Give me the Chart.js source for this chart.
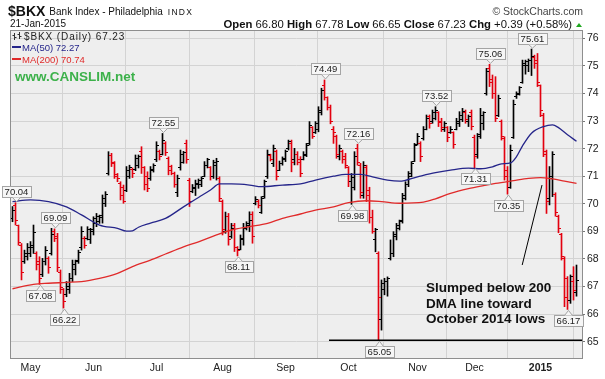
<!DOCTYPE html>
<html><head><meta charset="utf-8">
<script src="https://cdn.jsdelivr.net/npm/chart.js@4.4.1/dist/chart.umd.min.js"></script>
<style>html,body{margin:0;padding:0;background:#fff;overflow:hidden}canvas{display:block}</style>
</head><body>
<canvas id="c" width="605" height="379" style="width:605px;height:379px"></canvas>
<script>
// ---------- DATA ----------
const opens = [69.45,69.95,69.20,68.50,67.90,68.10,68.20,68.40,68.20,67.90,67.45,67.90,68.00,68.20,69.00,68.80,67.50,66.90,66.70,66.90,67.30,67.60,67.95,68.40,68.75,68.75,68.70,69.00,69.30,69.35,69.50,70.00,71.10,71.75,71.45,71.00,70.75,70.60,70.50,71.00,71.25,71.25,71.40,71.90,71.30,71.00,70.90,71.20,71.60,71.90,71.80,72.20,71.65,71.35,71.10,70.40,71.30,71.50,72.20,70.85,70.45,70.55,70.70,70.70,71.00,71.40,71.30,71.00,71.40,70.90,70.10,69.00,69.55,68.80,69.20,68.40,68.35,68.70,69.10,69.20,69.60,70.00,70.10,69.70,70.25,71.00,71.75,71.45,71.90,71.20,71.45,71.60,72.00,72.20,71.60,71.80,71.60,71.60,71.75,72.20,72.75,72.60,72.70,73.30,74.30,73.85,73.50,72.70,72.45,71.70,71.90,71.70,71.30,70.80,70.60,72.00,71.40,70.30,71.30,70.50,69.50,68.70,68.20,65.80,66.90,67.20,68.00,68.20,68.80,69.10,69.40,70.20,70.70,71.00,71.55,72.15,72.20,72.35,72.70,73.15,73.00,73.10,73.30,73.00,72.70,72.75,72.60,72.60,72.70,72.90,73.05,73.30,73.00,73.30,72.40,71.80,72.50,72.90,74.00,74.90,74.50,74.00,73.20,73.00,72.35,71.20,70.60,72.40,73.90,73.95,74.40,75.00,75.00,75.20,75.30,75.20,74.30,73.20,71.80,70.20,71.00,70.35,69.55,68.90,68.00,67.30,66.50,67.20,66.80];
const highs = [69.90,70.04,69.23,68.56,68.32,68.56,68.63,69.23,68.26,68.08,68.02,68.45,68.08,69.11,69.09,68.93,67.60,66.93,67.18,67.48,67.96,67.96,68.32,69.17,68.81,69.17,69.11,69.53,69.65,69.59,70.32,70.44,71.89,71.83,71.53,71.10,70.80,70.68,71.35,71.40,71.30,71.77,71.77,72.07,71.35,71.16,71.35,71.45,72.25,71.95,72.55,72.25,71.70,71.40,71.15,71.04,71.95,71.90,72.31,70.92,70.70,70.86,70.90,70.98,71.53,71.65,71.35,71.58,71.65,70.98,70.14,69.70,69.65,69.29,69.29,68.45,68.87,69.29,69.35,69.71,69.71,70.26,70.15,70.26,70.86,71.95,71.80,72.13,71.95,71.55,71.70,71.95,72.31,72.31,72.01,71.89,71.71,71.89,72.19,72.98,72.80,72.98,73.52,74.19,74.49,73.88,73.58,72.80,72.49,72.13,71.95,71.83,71.35,71.10,71.89,72.16,71.47,71.53,71.40,70.60,69.77,69.11,68.26,67.24,67.30,67.35,68.69,68.99,69.29,69.41,70.38,70.80,71.17,71.53,72.19,72.55,72.25,72.80,73.22,73.22,73.40,73.52,73.34,73.10,72.98,72.80,72.80,72.61,73.10,73.34,73.46,73.40,73.22,73.40,72.49,72.55,73.46,73.34,74.91,75.06,74.67,74.61,73.94,73.04,72.43,71.35,72.13,73.76,74.06,74.25,75.21,75.21,75.25,75.61,75.39,75.45,74.31,73.28,71.95,71.35,71.89,70.40,69.59,68.93,68.08,67.36,67.42,67.72,67.78];
const lows = [69.35,69.23,68.50,67.24,67.84,67.96,68.08,68.20,67.60,67.08,67.36,67.78,67.48,68.14,68.63,67.54,66.75,66.22,66.63,66.75,67.18,67.42,67.84,68.32,68.39,68.69,68.56,68.87,69.17,69.29,69.30,69.90,71.04,71.35,70.92,70.80,70.14,70.02,70.44,70.92,70.95,71.20,71.30,71.10,70.50,70.44,70.85,71.15,71.53,71.59,71.77,71.75,71.05,71.05,70.60,70.26,71.22,71.47,71.47,69.90,70.40,70.30,70.56,70.62,70.98,71.30,70.86,70.92,70.86,70.08,68.87,68.93,68.50,68.75,68.27,68.11,68.33,68.50,69.05,68.99,68.57,69.96,69.85,69.65,70.20,70.92,71.55,71.35,70.86,71.20,71.40,71.53,71.95,71.16,71.41,71.41,70.98,71.59,71.71,72.13,72.37,72.55,72.61,73.22,73.76,73.40,72.90,72.19,71.65,71.59,71.47,71.29,70.62,69.98,70.50,71.40,70.20,70.20,70.08,69.30,68.93,68.26,65.05,65.42,66.70,66.65,67.96,68.08,68.69,69.05,69.30,70.14,70.62,70.98,71.53,72.13,71.53,72.31,72.68,72.74,72.92,73.04,72.80,72.62,72.62,72.25,72.55,72.01,72.68,72.80,72.98,72.92,72.80,72.68,71.31,71.65,72.37,72.68,73.94,74.25,73.82,72.98,73.16,72.31,70.86,70.35,70.56,72.37,73.82,73.94,74.37,74.70,74.79,74.65,74.91,74.25,73.16,71.71,69.65,69.96,70.26,69.55,68.95,67.96,66.27,66.17,66.39,66.51,66.65];
const closes = [69.75,69.40,68.60,67.50,68.20,68.40,68.50,68.95,67.80,67.30,67.90,68.30,67.70,68.90,68.75,67.70,66.95,66.45,67.00,67.30,67.80,67.90,68.25,69.00,68.50,69.05,69.08,69.45,69.55,69.58,70.20,70.35,71.75,71.50,71.05,70.90,70.30,70.10,71.20,71.30,71.10,71.65,71.70,71.30,70.70,70.55,71.25,71.40,72.10,71.70,72.30,71.85,71.20,71.10,70.70,70.90,71.80,71.85,71.60,70.10,70.60,70.75,70.85,70.90,71.40,71.60,71.00,71.50,71.55,70.20,69.05,69.55,68.70,69.10,68.40,68.30,68.75,69.10,69.30,69.40,68.80,70.15,69.95,70.20,70.80,71.80,71.60,72.00,71.00,71.45,71.65,71.90,72.25,71.50,71.80,71.50,71.10,71.80,72.10,72.85,72.45,72.90,73.40,74.10,73.85,73.50,73.00,72.60,71.80,72.00,71.60,71.40,70.80,70.95,71.70,71.50,70.40,71.40,70.30,69.50,69.00,69.05,66.60,67.10,67.20,67.30,68.20,68.90,69.20,69.35,70.30,70.70,71.10,71.45,72.10,72.45,71.70,72.70,73.10,72.90,73.30,73.40,72.95,72.75,72.90,72.40,72.70,72.15,73.00,73.20,73.35,73.05,73.15,72.80,71.70,72.45,73.20,73.30,74.80,74.40,74.00,73.10,73.80,72.45,71.00,70.60,71.95,73.60,74.00,74.20,75.10,75.15,75.20,75.35,75.10,74.40,73.40,71.90,70.10,70.90,71.80,69.70,69.10,68.10,66.60,66.50,67.35,66.84,67.23];

// x axis: bar index of the first trading day of each month, and its label
const monthTickIndex = [6, 27, 48, 70, 91, 112, 135, 154, 176];
const monthTickLabels = ['May', 'Jun', 'Jul', 'Aug', 'Sep', 'Oct', 'Nov', 'Dec', '2015'];
const yTickValues = [65, 66, 67, 68, 69, 70, 71, 72, 73, 74, 75, 76];

// moving averages read at sample bars
const ma50Index  = [0, 6, 12, 18, 23, 29, 35, 38, 40, 42, 46, 51, 57, 62, 66, 69, 73, 79, 83, 90, 96, 101, 107, 111, 116, 120, 125, 129, 135, 141, 146, 152, 156, 160, 163, 166, 168, 170, 173, 177, 180, 182, 185, 188];
const ma50Values = [70.08, 70.14, 70.08, 69.89, 69.60, 69.23, 69.11, 69.01, 69.02, 69.15, 69.30, 69.47, 69.89, 70.23, 70.50, 70.72, 70.72, 70.68, 70.62, 70.68, 70.72, 70.86, 71.00, 71.07, 71.07, 70.98, 70.86, 70.82, 70.98, 71.13, 71.22, 71.29, 71.27, 71.34, 71.45, 71.48, 71.71, 72.10, 72.56, 72.80, 72.86, 72.76, 72.50, 72.27];
const ma200Index  = [0, 7, 12, 18, 23, 29, 35, 40, 46, 51, 57, 62, 68, 73, 79, 85, 90, 96, 101, 107, 112, 118, 123, 129, 137, 141, 146, 152, 157, 161, 167, 172, 176, 180, 184, 188];
const ma200Values = [66.92, 67.08, 67.12, 67.15, 67.18, 67.30, 67.48, 67.72, 67.96, 68.18, 68.44, 68.62, 68.87, 69.05, 69.17, 69.29, 69.47, 69.63, 69.77, 69.89, 70.04, 70.11, 70.08, 70.02, 70.06, 70.18, 70.38, 70.55, 70.66, 70.74, 70.84, 70.92, 70.95, 70.90, 70.82, 70.74];

// price tags on swing highs / lows (bar index, which end)
const tagIndex = [1, 14, 9, 17, 50, 75, 104, 115, 113, 122, 141, 154, 159, 173, 165, 185];
const tagSide  = ['hi','hi','lo','lo','hi','lo','hi','hi','lo','lo','hi','lo','hi','hi','lo','lo'];

// annotation
const noteLines = ['Slumped below 200', 'DMA line toward', 'October 2014 lows'];
const noteAnchor = { index: 137.8, value: 66.80 };
const pointerLine = { fromIndex: 176.5, fromValue: 70.68, toIndex: 169.9, toValue: 67.78 };
const supportLine = { fromIndex: 105.5, value: 65.05 };

// ---------- RENDERING ----------
const FONT = '"Liberation Sans", Arial, Helvetica, sans-serif';
const RED = '#e3000f', BLACK = '#000000';
const NAVY = '#25258a', MARED = '#e02a2a';
const barColors = closes.map((c, i) => (i > 0 && c < closes[i - 1]) ? RED : BLACK);
const last = closes.length - 1;
const f2 = v => v.toFixed(2);

function text(ctx, s, x, y, font, color, align, ls) {
  ctx.font = font; ctx.fillStyle = color; ctx.textAlign = align || 'left';
  ctx.textBaseline = 'alphabetic';
  ctx.letterSpacing = ls || '0px';
  ctx.fillText(s, x, y);
  ctx.letterSpacing = '0px';
}

const decor = {
  id: 'decor',
  beforeDraw(chart) {
    const { ctx, chartArea: a } = chart;
    ctx.save();
    ctx.fillStyle = '#ffffff'; ctx.fillRect(0, 0, chart.width, chart.height);
    ctx.fillStyle = '#eeeeee'; ctx.fillRect(a.left, a.top, a.right - a.left, a.bottom - a.top);
    ctx.restore();
  },
  afterDatasetDraw(chart, args) {
    if (args.index !== 0) return;
    const ctx = chart.ctx, ys = chart.scales.y, a = chart.chartArea;
    ctx.save();
    ctx.beginPath(); ctx.rect(a.left, a.top, a.right - a.left, a.bottom - a.top); ctx.clip();
    args.meta.data.forEach((el, i) => {
      ctx.fillStyle = barColors[i];
      const yo = Math.round(ys.getPixelForValue(opens[i]) - 0.5);
      const yc = Math.round(ys.getPixelForValue(closes[i]) - 0.5);
      ctx.fillRect(Math.round(el.x - 2.5), yo, 2, 1);
      ctx.fillRect(Math.round(el.x + 0.5), yc, 2, 1);
    });
    ctx.restore();
  },
  afterDraw(chart) {
    const { ctx, chartArea: a } = chart;
    const xs = chart.scales.x, ys = chart.scales.y;
    ctx.save();
    // support line at October low
    ctx.strokeStyle = '#000'; ctx.lineWidth = 1.6;
    ctx.beginPath();
    const sy = ys.getPixelForValue(supportLine.value);
    ctx.moveTo(xs.getPixelForValue(supportLine.fromIndex), sy); ctx.lineTo(a.right, sy); ctx.stroke();
    // pointer line
    ctx.lineWidth = 1;
    ctx.beginPath();
    ctx.moveTo(xs.getPixelForValue(pointerLine.fromIndex), ys.getPixelForValue(pointerLine.fromValue));
    ctx.lineTo(xs.getPixelForValue(pointerLine.toIndex), ys.getPixelForValue(pointerLine.toValue));
    ctx.stroke();
    // frame
    ctx.strokeStyle = '#8e8e8e'; ctx.lineWidth = 1;
    ctx.strokeRect(a.left - 0.5, a.top - 0.5, a.right - a.left + 1, a.bottom - a.top + 1);

    // note text
    const nx = xs.getPixelForValue(noteAnchor.index), ny = ys.getPixelForValue(noteAnchor.value);
    noteLines.forEach((s, k) => text(ctx, s, nx, ny + k * 15.5, 'bold 13.5px ' + FONT, '#111'));

    // price tags
    tagIndex.forEach((idx, k) => {
      const hi = tagSide[k] === 'hi';
      const v = hi ? highs[idx] : lows[idx];
      const px = Math.round(xs.getPixelForValue(idx)) + 0.5;
      const py = ys.getPixelForValue(v);
      ctx.font = '9.5px ' + FONT;
      const label = f2(v);
      const w = Math.round(ctx.measureText(label).width) + 5, h = 11;
      const bx = Math.round(px - w / 2) + 0.5;
      const by = hi ? Math.round(py - 16.5) + 0.5 : Math.round(py + 5.5) + 0.5;
      ctx.fillStyle = '#f6f6f6'; ctx.strokeStyle = '#a4a4a4'; ctx.lineWidth = 1;
      ctx.fillRect(bx, by, w, h); ctx.strokeRect(bx, by, w, h);
      ctx.beginPath();
      if (hi) { ctx.moveTo(px - 4, by + h); ctx.lineTo(px, py - 1); ctx.lineTo(px + 4, by + h); }
      else { ctx.moveTo(px - 4, by); ctx.lineTo(px, py + 1); ctx.lineTo(px + 4, by); }
      ctx.fillStyle = '#f6f6f6'; ctx.fill(); ctx.stroke();
      ctx.fillStyle = '#222'; ctx.textAlign = 'center'; ctx.textBaseline = 'middle';
      ctx.fillText(label, px, by + h / 2 + 0.5);
    });

    // in-chart legend
    ctx.strokeStyle = '#333'; ctx.lineWidth = 1;
    ctx.beginPath();
    ctx.moveTo(14.5, 33); ctx.lineTo(14.5, 40); ctx.moveTo(12.5, 35.5); ctx.lineTo(14.5, 35.5); ctx.moveTo(14.5, 37.5); ctx.lineTo(16.5, 37.5);
    ctx.moveTo(19.5, 32); ctx.lineTo(19.5, 39); ctx.moveTo(17.5, 34.5); ctx.lineTo(19.5, 34.5); ctx.moveTo(19.5, 36.5); ctx.lineTo(21.5, 36.5);
    ctx.stroke();
    text(ctx, '$BKX (Daily) ' + f2(closes[last]), 24, 39.5, '10px ' + FONT, '#222', 'left', '0.9px');
    ctx.fillStyle = NAVY; ctx.fillRect(12, 46, 9, 2);
    text(ctx, 'MA(50) ' + f2(ma50Values[ma50Values.length - 1]), 22, 51, '9.5px ' + FONT, NAVY);
    ctx.fillStyle = MARED; ctx.fillRect(12, 58, 9, 2);
    text(ctx, 'MA(200) ' + f2(ma200Values[ma200Values.length - 1]), 22, 63, '9.5px ' + FONT, MARED);
    text(ctx, 'www.CANSLIM.net', 15, 81, 'bold 13.5px ' + FONT, '#3cb14a');

    // header
    ctx.font = 'bold 14px ' + FONT;
    const tickerW = ctx.measureText('$BKX').width;
    text(ctx, '$BKX', 8, 15.5, 'bold 14px ' + FONT, '#111');
    text(ctx, 'Bank Index - Philadelphia', 8 + tickerW + 4, 15, '10px ' + FONT, '#111');
    ctx.font = '10px ' + FONT;
    const nameW = ctx.measureText('Bank Index - Philadelphia').width;
    text(ctx, 'INDX', 8 + tickerW + 4 + nameW + 5, 15, '8.5px ' + FONT, '#111', 'left', '1.3px');
    text(ctx, '21-Jan-2015', 10, 27, '10px ' + FONT, '#111');
    text(ctx, '\u00A9 StockCharts.com', 583, 15, '10.5px ' + FONT, '#444', 'right');
    const chg = closes[last] - closes[last - 1];
    const pct = chg / closes[last - 1] * 100;
    const parts = [
      ['Open ', true], [f2(opens[last]) + ' ', false],
      ['High ', true], [f2(highs[last]) + ' ', false],
      ['Low ', true], [f2(lows[last]) + ' ', false],
      ['Close ', true], [f2(closes[last]) + ' ', false],
      ['Chg ', true], [(chg >= 0 ? '+' : '') + f2(chg) + ' (' + (pct >= 0 ? '+' : '') + f2(pct) + '%)', false]
    ];
    const FS = '11.3px ';
    let total = 0;
    parts.forEach(p => { ctx.font = (p[1] ? 'bold ' : '') + FS + FONT; total += ctx.measureText(p[0]).width; });
    let cx = 572 - total;
    parts.forEach(p => {
      const fnt = (p[1] ? 'bold ' : '') + FS + FONT;
      text(ctx, p[0], cx, 28, fnt, '#111');
      ctx.font = fnt; cx += ctx.measureText(p[0]).width;
    });
    ctx.fillStyle = '#1fa81f';
    ctx.beginPath(); ctx.moveTo(576, 27); ctx.lineTo(582, 27); ctx.lineTo(579, 23); ctx.closePath(); ctx.fill();
    ctx.restore();
  }
};

const barData = highs.map((h, i) => ({ x: i, y: [lows[i], h] }));
const ma50Data = ma50Index.map((x, k) => ({ x, y: ma50Values[k] }));
const ma200Data = ma200Index.map((x, k) => ({ x, y: ma200Values[k] }));

new Chart(document.getElementById('c'), {
  type: 'bar',
  data: {
    datasets: [
      { type: 'bar', label: '$BKX', data: barData, backgroundColor: barColors, borderWidth: 0, barThickness: 1, order: 2 },
      { type: 'line', label: 'MA(50)', data: ma50Data, borderColor: NAVY, borderWidth: 1.3, pointRadius: 0, fill: false, cubicInterpolationMode: 'monotone', order: 1 },
      { type: 'line', label: 'MA(200)', data: ma200Data, borderColor: MARED, borderWidth: 1.3, pointRadius: 0, fill: false, cubicInterpolationMode: 'monotone', order: 1 }
    ]
  },
  options: {
    responsive: false, animation: false, devicePixelRatio: 1, events: [],
    layout: { padding: { left: 11, top: 31, right: 0, bottom: 0 } },
    plugins: { legend: { display: false }, tooltip: { enabled: false }, title: { display: false } },
    scales: {
      x: {
        type: 'linear', min: -0.5, max: 189.833, offset: false,
        afterBuildTicks: s => { s.ticks = monthTickIndex.map(v => ({ value: v })); },
        afterFit: s => { s.height = 21; },
        ticks: {
          autoSkip: false, maxRotation: 0, padding: 4, color: '#222',
          callback: (v, i) => monthTickLabels[i],
          font: c => ({ family: FONT, size: 10.5, weight: monthTickLabels[c.index] === '2015' ? 'bold' : 'normal' })
        },
        grid: { color: '#d3d3d3', drawTicks: false, lineWidth: 1 },
        border: { display: false }
      },
      y: {
        type: 'linear', position: 'right', min: 64.409, max: 76.265,
        afterBuildTicks: s => { s.ticks = yTickValues.map(v => ({ value: v })); },
        afterFit: s => { s.width = 23; },
        ticks: { padding: 2, color: '#222', font: { family: FONT, size: 10.5 }, callback: v => String(v) },
        grid: { color: '#d3d3d3', tickLength: 3, tickColor: '#777', lineWidth: 1 },
        border: { display: false }
      }
    }
  },
  plugins: [decor]
});
</script>
</body></html>
